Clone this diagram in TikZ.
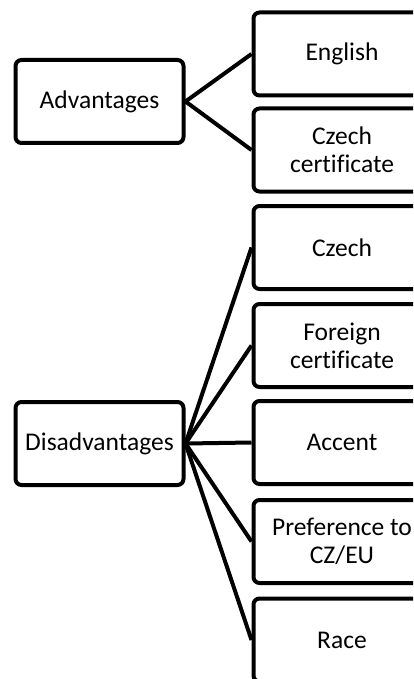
\documentclass[tikz,border=0pt]{standalone}
\usepackage{fontspec}
\setmainfont[Ligatures=NoCommon]{Carlito}
\tikzset{
    punkt/.style={
           rectangle,
           rounded corners=6pt,
           draw=black, line width=4pt,
           minimum width=177pt,
           minimum height=83pt,
           align=center,
           font=\fontsize{25.5}{28}\selectfont},
    punktleft/.style={
           punkt,
           minimum width=168pt},
    ast/.style={line width=4pt}
    }
\begin{document}
\begin{tikzpicture}[x=1pt,y=-1pt]
\useasboundingbox (0,0) rectangle (413,679);
\clip (0,0) rectangle (413,679);
\node[punktleft] (adv) at (99.5,101.5) {Advantages};
\node[punktleft] (dis) at (99.5,443.5) {Disadvantages};
\node[punkt] (eng) at (342,54) {English};
\node[punkt] (czcert) at (342,150) {Czech\\certificate};
\node[punkt] (cz) at (342,247.5) {Czech};
\node[punkt] (forcert) at (342,345.5) {Foreign\\certificate};
\node[punkt] (acc) at (342,442.5) {Accent};
\node[punkt] (pref) at (342,541.5) {Preference to\\CZ/EU};
\node[punkt] (race) at (342,640) {Race};
\draw[ast] (adv.east) -- (eng.west);
\draw[ast] (adv.east) -- (czcert.west);
\foreach \n in {cz,forcert,acc,pref,race}
  \draw[ast] (dis.east) -- (\n.west);
\end{tikzpicture}
\end{document}
